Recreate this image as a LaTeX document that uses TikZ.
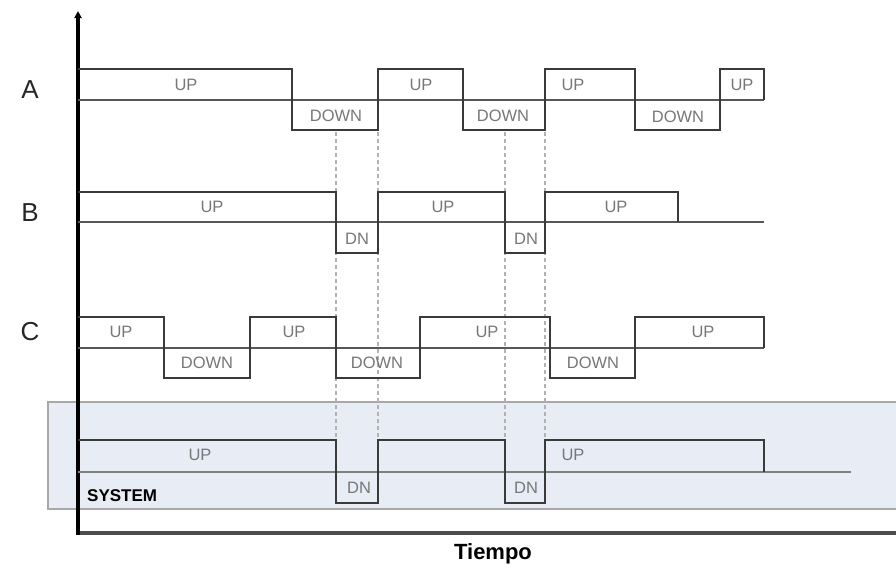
\documentclass[tikz,border=0pt]{standalone}
\usepackage{fontspec}
\setmainfont{Liberation Sans}
\usetikzlibrary{arrows.meta}
\definecolor{panelfill}{HTML}{E8ECF5}
\definecolor{panelline}{HTML}{A8A8A8}
\definecolor{wavecol}{HTML}{3A3A3A}
\definecolor{tagcol}{HTML}{777777}

\begin{document}
\begin{tikzpicture}[
    x=1pt, y=-1pt,
    >={Triangle[length=7pt, width=7pt]},
    wave/.style={draw=wavecol, line width=2.8pt, line join=miter},
    zeroline/.style={draw=wavecol!85, line width=2.8pt},
    tag/.style={font=\fontsize{16.5}{16.5}\selectfont, text=tagcol, inner sep=0pt},
    rowname/.style={font=\fontsize{26}{26}\selectfont, text=black!85, inner sep=0pt},
    guide/.style={draw=black!30, dash pattern=on 4pt off 3pt, line width=1.2pt},
    timeaxis/.style={line width=3.2pt},
    panel/.style={fill=panelfill, draw=panelline, line width=1.8pt}
]
\useasboundingbox (0,0) rectangle (896,565);

% ── System panel ──
\draw[panel] (48,402) rectangle (905,509);

% ── Axes ──
\draw[timeaxis, draw=black!70] (78,533) -- (905,533);
\draw[timeaxis, ->] (78,535) -- (78,11);
\node[rowname] (nameA) at (30,90) {A};
\node[rowname] (nameB) at (30,213) {B};
\node[rowname] (nameC) at (30,332) {C};
\node[font=\bfseries\fontsize{22}{22}\selectfont, anchor=base, inner sep=0pt] (tiempo) at (493,559) {Tiempo};

% ── Guides ──
\foreach \x in {336,378,505,545}
    \draw[guide] (\x,132) -- (\x,438);

% ── Signal A ──
\draw[zeroline] (78,100) -- (764,100);
\draw[wave] (78,69) -- (292,69) -- (292,130) -- (378,130) -- (378,69) -- (463,69)
    -- (463,130) -- (545,130) -- (545,69) -- (635,69) -- (635,130) -- (720,130)
    -- (720,69) -- (764,69) -- (764,100);
\node[tag] (aup1) at (186,85) {UP};
\node[tag] (adn1) at (336,116) {DOWN};
\node[tag] (aup2) at (421,85) {UP};
\node[tag] (adn2) at (503,116) {DOWN};
\node[tag] (aup3) at (573,85) {UP};
\node[tag] (adn3) at (678,117) {DOWN};
\node[tag] (aup4) at (742,85) {UP};

% ── Signal B ──
\draw[zeroline] (78,222) -- (764,222);
\draw[wave] (78,192) -- (336,192) -- (336,253) -- (378,253) -- (378,192) -- (505,192)
    -- (505,253) -- (545,253) -- (545,192) -- (678,192) -- (678,222);
\node[tag] (bup1) at (212,207) {UP};
\node[tag] (bdn1) at (357,239) {DN};
\node[tag] (bup2) at (443,207) {UP};
\node[tag] (bdn2) at (526,239) {DN};
\node[tag] (bup3) at (616,207) {UP};

% ── Signal C ──
\draw[zeroline] (78,348) -- (764,348);
\draw[wave] (78,317) -- (164,317) -- (164,378) -- (250,378) -- (250,317) -- (336,317)
    -- (336,378) -- (420,378) -- (420,317) -- (550,317) -- (550,378) -- (635,378)
    -- (635,317) -- (764,317) -- (764,348);
\node[tag] (cup1) at (121,332) {UP};
\node[tag] (cdn1) at (207,363) {DOWN};
\node[tag] (cup2) at (294,332) {UP};
\node[tag] (cdn2) at (377,363) {DOWN};
\node[tag] (cup3) at (487,332) {UP};
\node[tag] (cdn3) at (593,363) {DOWN};
\node[tag] (cup4) at (703,332) {UP};

% ── System ──
\draw[zeroline, draw=black!50] (78,472) -- (851,472);
\draw[wave] (78,440) -- (336,440) -- (336,503) -- (378,503) -- (378,440) -- (505,440)
    -- (505,503) -- (545,503) -- (545,440) -- (764,440) -- (764,472);
\node[tag] (sup1) at (200,455) {UP};
\node[tag] (sdn1) at (359,488) {DN};
\node[tag] (sdn2) at (526,488) {DN};
\node[tag] (sup2) at (573,455) {UP};
\node[font=\bfseries\fontsize{17}{17}\selectfont, anchor=west, inner sep=0pt] (sysname) at (87,496) {SYSTEM};

\end{tikzpicture}
\end{document}
